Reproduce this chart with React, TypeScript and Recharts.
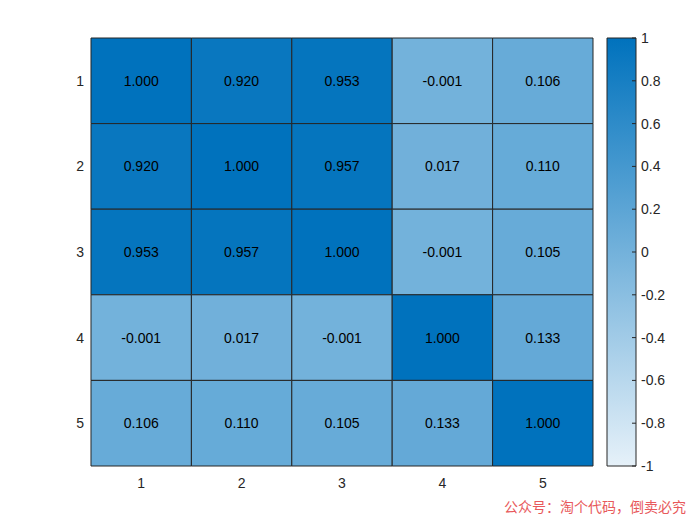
import React from "react";
import {
  ComposedChart,
  XAxis,
  YAxis,
  ReferenceArea,
} from "recharts";

const variables = [1, 2, 3, 4, 5];
const row1 = [1.0, 0.92, 0.953, -0.001, 0.106];
const row2 = [0.92, 1.0, 0.957, 0.017, 0.11];
const row3 = [0.953, 0.957, 1.0, -0.001, 0.105];
const row4 = [-0.001, 0.017, -0.001, 1.0, 0.133];
const row5 = [0.106, 0.11, 0.105, 0.133, 1.0];
const rows = [row1, row2, row3, row4, row5];
const barTicks = [-1, -0.8, -0.6, -0.4, -0.2, 0, 0.2, 0.4, 0.6, 0.8, 1];
const barRange = [{ x: 0, y: -1 }, { x: 1, y: 1 }];

const LOW = [230, 241, 249];
const HIGH = [0, 114, 189];
const colorOf = (v: number) => {
  const t = (v + 1) / 2;
  const c = LOW.map((l, i) => Math.round(l + (HIGH[i] - l) * t));
  return `rgb(${c[0]},${c[1]},${c[2]})`;
};

const font = "'Liberation Sans', Arial, Helvetica, sans-serif";
const axisColor = "#262626";

const BarTick = (props: any) => {
  const { x, y, payload } = props;
  const v = Math.round(payload.value * 10) / 10;
  return (
    <g>
      <line x1={x - 9} x2={x - 5} y1={y} y2={y} stroke={axisColor} />
      <text x={x} y={y} dy={5} fontSize={14} fill={axisColor} fontFamily={font}>
        {String(v)}
      </text>
    </g>
  );
};

const App = () => {
  const cells: { r: number; c: number; v: number }[] = [];
  rows.forEach((row, r) => row.forEach((v, c) => cells.push({ r: variables[r], c: variables[c], v })));

  return (
    <div style={{ position: "absolute", left: 0, top: 0, width: 700, height: 525, background: "#fff" }}>
      <div style={{ position: "absolute", left: 0, top: 0 }}>
        <ComposedChart width={700} height={525} margin={{ top: 38, right: 107, bottom: 29, left: 0 }}>
          <XAxis
            type="number"
            dataKey="x"
            domain={[0.5, 5.5]}
            ticks={variables}
            allowDataOverflow
            tickLine={false}
            axisLine={false}
            height={30}
            tickMargin={6}
            tick={{ fill: axisColor, fontSize: 14, fontFamily: font }}
          />
          <YAxis
            type="number"
            dataKey="y"
            domain={[0.5, 5.5]}
            ticks={variables}
            reversed
            allowDataOverflow
            tickLine={false}
            axisLine={false}
            width={91}
            tickMargin={1}
            tick={{ fill: axisColor, fontSize: 14, fontFamily: font }}
          />
          {cells.map((d) => (
            <ReferenceArea
              key={`${d.r}-${d.c}`}
              x1={d.c - 0.5}
              x2={d.c + 0.5}
              y1={d.r - 0.5}
              y2={d.r + 0.5}
              fill={colorOf(d.v)}
              fillOpacity={1}
              stroke={axisColor}
              strokeWidth={1}
              ifOverflow="visible"
              label={{
                value: d.v.toFixed(3),
                position: "center",
                fill: "#000",
                fontSize: 14,
                fontFamily: font,
              }}
            />
          ))}
        </ComposedChart>
      </div>
      <div style={{ position: "absolute", left: 0, top: 0 }}>
        <ComposedChart
          width={700}
          height={525}
          data={barRange}
          margin={{ top: 38, right: 0, bottom: 59, left: 607 }}
        >
          <defs>
            <linearGradient id="cbar" x1="0" y1="0" x2="0" y2="1">
              <stop offset="0%" stopColor={colorOf(1)} />
              <stop offset="100%" stopColor={colorOf(-1)} />
            </linearGradient>
          </defs>
          <XAxis type="number" dataKey="x" domain={[0, 1]} hide height={0} />
          <YAxis
            type="number"
            dataKey="y"
            orientation="right"
            domain={[-1, 1]}
            ticks={barTicks}
            width={64}
            tickLine={false}
            axisLine={false}
            tickSize={0}
            tickMargin={5}
            tick={<BarTick />}
          />
          <ReferenceArea
            x1={0}
            x2={1}
            y1={-1}
            y2={1}
            fill="url(#cbar)"
            fillOpacity={1}
            stroke={axisColor}
            ifOverflow="visible"
          />
        </ComposedChart>
      </div>
      <div
        style={{
          position: "absolute",
          left: 504,
          top: 496,
          fontSize: 14,
          color: "#e8595b",
          fontFamily: "'Noto Sans CJK SC', sans-serif",
          whiteSpace: "nowrap",
        }}
      >
        公众号：淘个代码，倒卖必究
      </div>
    </div>
  );
};

export default App;
